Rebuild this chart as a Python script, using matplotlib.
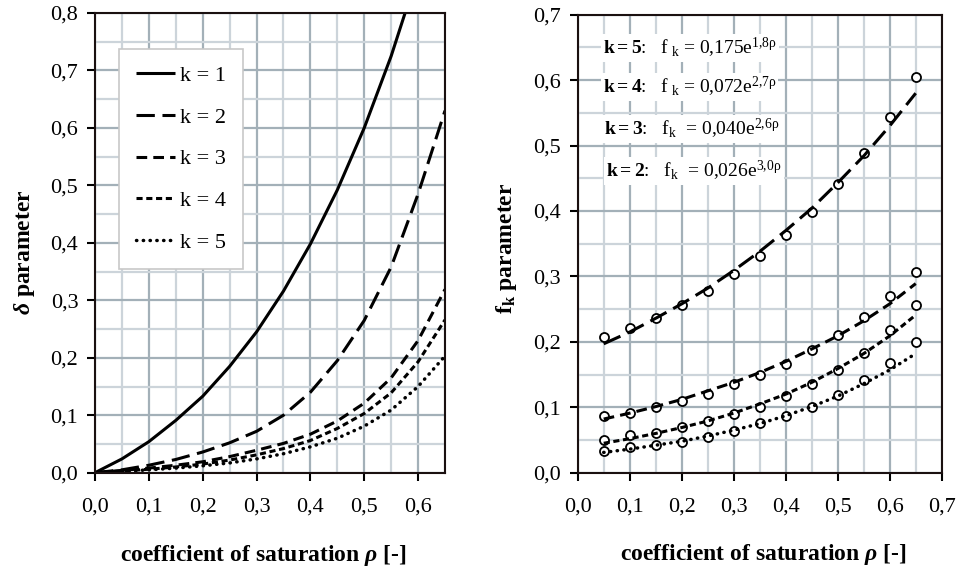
import numpy as np
import matplotlib
matplotlib.use('Agg')
import matplotlib.pyplot as plt
from matplotlib.ticker import MultipleLocator, FuncFormatter

plt.rcParams['font.family'] = ['Liberation Serif', 'DejaVu Serif']
plt.rcParams['mathtext.fontset'] = 'custom'
plt.rcParams['mathtext.rm'] = 'Liberation Serif'
plt.rcParams['mathtext.it'] = 'Liberation Serif:italic:bold'
plt.rcParams['mathtext.bf'] = 'Liberation Serif:bold'

# left chart: delta parameter
rho = [0.0, 0.05, 0.10, 0.15, 0.20, 0.25, 0.30, 0.35, 0.40, 0.45, 0.50, 0.55, 0.60, 0.65]
delta_k1 = [0, 0.024, 0.054, 0.091, 0.133, 0.185, 0.245, 0.316, 0.398, 0.492, 0.600, 0.725, 0.87, 1.04]
delta_k2 = [0, 0.005, 0.013, 0.023, 0.036, 0.052, 0.072, 0.100, 0.140, 0.195, 0.265, 0.358, 0.485, 0.630]
delta_k3 = [0, 0.004, 0.008, 0.013, 0.019, 0.028, 0.039, 0.051, 0.067, 0.090, 0.121, 0.165, 0.230, 0.319]
delta_k4 = [0, 0.003, 0.006, 0.010, 0.015, 0.022, 0.031, 0.042, 0.056, 0.077, 0.103, 0.139, 0.193, 0.266]
delta_k5 = [0, 0.002, 0.005, 0.008, 0.012, 0.017, 0.024, 0.033, 0.045, 0.060, 0.081, 0.109, 0.150, 0.203]
k_labels = ['k = 1', 'k = 2', 'k = 3', 'k = 4', 'k = 5']

# right chart: f_k parameter, measured points and fitted curves
rho_pts = [0.05, 0.10, 0.15, 0.20, 0.25, 0.30, 0.35, 0.40, 0.45, 0.50, 0.55, 0.60, 0.65]
f_k5 = [0.207, 0.221, 0.236, 0.256, 0.278, 0.303, 0.331, 0.363, 0.399, 0.442, 0.489, 0.543, 0.605]
f_k4 = [0.086, 0.092, 0.100, 0.110, 0.121, 0.135, 0.149, 0.166, 0.187, 0.210, 0.238, 0.270, 0.307]
f_k3 = [0.050, 0.057, 0.060, 0.070, 0.079, 0.089, 0.101, 0.117, 0.136, 0.157, 0.183, 0.218, 0.256]
f_k2 = [0.033, 0.040, 0.043, 0.047, 0.055, 0.064, 0.0755, 0.086, 0.100, 0.119, 0.142, 0.168, 0.200]
fit_k5 = [0.197, 0.215, 0.236, 0.258, 0.282, 0.309, 0.338, 0.370, 0.404, 0.443, 0.484, 0.530, 0.580]
fit_k4 = [0.082, 0.091, 0.101, 0.112, 0.125, 0.138, 0.153, 0.170, 0.189, 0.209, 0.232, 0.258, 0.289]
fit_k3 = [0.045, 0.052, 0.060, 0.069, 0.079, 0.091, 0.105, 0.120, 0.138, 0.159, 0.182, 0.209, 0.241]
fit_k2 = [0.031, 0.036, 0.042, 0.048, 0.056, 0.065, 0.075, 0.087, 0.101, 0.117, 0.136, 0.157, 0.182]
eq_labels = [(r'$\mathbf{k = 5}$:', r'f$_{\mathrm{\ k}}$ = 0,175e$^{\mathrm{1{,}8ρ}}$'),
             (r'$\mathbf{k = 4}$:', r'f$_{\mathrm{\ k}}$ = 0,072e$^{\mathrm{2{,}7ρ}}$'),
             (r'$\mathbf{k = 3}$:', r'f$_{\mathrm{k}}$  = 0,040e$^{\mathrm{2{,}6ρ}}$'),
             (r'$\mathbf{k = 2}$:', r'f$_{\mathrm{k}}$  = 0,026e$^{\mathrm{3{,}0ρ}}$')]
eq_x = [0.048, 0.048, 0.05, 0.055]
eq_y = [0.649, 0.590, 0.525, 0.461]

styles = ['-', (0, (6, 2.5)), (0, (3.5, 2)), (0, (2, 1.2)), (0, (0.1, 1.85))]

fig = plt.figure(figsize=(9.57, 5.75), dpi=100)
ax1 = fig.add_axes([95 / 957, 1 - 472.7 / 575, 350 / 957, 459.7 / 575])
ax2 = fig.add_axes([577.7 / 957, 1 - 472.7 / 575, 364 / 957, 458 / 575])

comma = FuncFormatter(lambda v, p: f'{v:.1f}'.replace('.', ','))


def style_axes(ax, xmax, ymax):
    ax.set_xlim(0, xmax)
    ax.set_ylim(0, ymax)
    ax.xaxis.set_major_locator(MultipleLocator(0.1))
    ax.yaxis.set_major_locator(MultipleLocator(0.1))
    ax.xaxis.set_minor_locator(MultipleLocator(0.05))
    ax.yaxis.set_minor_locator(MultipleLocator(0.05))
    ax.xaxis.set_major_formatter(comma)
    ax.yaxis.set_major_formatter(comma)
    ax.grid(which='major', color='#a3b0b8', lw=1.6)
    ax.grid(which='minor', color='#ccd4da', lw=1.6)
    ax.set_axisbelow(True)
    ax.tick_params(which='major', direction='out', length=6, width=1.5, labelsize=16)
    ax.tick_params(axis='x', which='major', pad=12)
    ax.tick_params(axis='y', which='major', pad=6)
    ax.tick_params(which='minor', length=0)
    for s in ax.spines.values():
        s.set_linewidth(1.5)
        s.set_color('#1a1010')


style_axes(ax1, 0.65, 0.8)
style_axes(ax2, 0.7, 0.7)

deltas = [delta_k1, delta_k2, delta_k3, delta_k4, delta_k5]
for d, ls, lab in zip(deltas, styles, k_labels):
    cap = 'round' if ls == styles[4] else 'butt'
    lw = 2.5 if ls == styles[4] else 2.2
    ax1.plot(rho, d, color='black', lw=lw, linestyle=ls, label=lab,
             dash_capstyle=cap, solid_capstyle='butt')

leg = ax1.legend(loc='upper left', bbox_to_anchor=(0.069, 0.922), fontsize=16,
                 handlelength=1.75, handletextpad=0.25, labelspacing=0.95,
                 borderpad=0.75, borderaxespad=0, fancybox=False, framealpha=1)
leg.get_frame().set_edgecolor('#c8c8c8')
leg.get_frame().set_linewidth(1.2)

ax1.set_xlabel(r'coefficient of saturation $\rho$ [-]', fontsize=17, fontweight='bold')
ax1.set_ylabel(r'$\delta$ parameter', fontsize=17, fontweight='bold')
ax1.xaxis.set_label_coords(0.48, -0.152)
ax1.yaxis.set_label_coords(-0.165, 0.48)

pts = [f_k5, f_k4, f_k3, f_k2]
fits = [fit_k5, fit_k4, fit_k3, fit_k2]
fit_styles = [styles[1], styles[2], styles[3], styles[4]]
for p, f, ls in zip(pts, fits, fit_styles):
    ax2.plot(rho_pts, p, 'o', ms=6.5, mfc='white', mec='black', mew=1.3, zorder=3)
    cap = 'round' if ls == styles[4] else 'butt'
    lw = 2.5 if ls == styles[4] else 2.2
    ax2.plot(rho_pts, f, color='black', lw=lw, linestyle=ls, dash_capstyle=cap, zorder=4)

for (kl, eq), x, y in zip(eq_labels, eq_x, eq_y):
    ax2.text(x, y, kl + '   ' + eq, fontsize=14, va='center', ha='left', zorder=5,
             bbox=dict(facecolor='white', edgecolor='none', pad=1.5))

ax2.set_xlabel(r'coefficient of saturation $\rho$ [-]', fontsize=17, fontweight='bold')
ax2.set_ylabel(r'f$_{\mathbf{k}}$ parameter', fontsize=17, fontweight='bold')
ax2.xaxis.set_label_coords(0.51, -0.152)
ax2.yaxis.set_label_coords(-0.16, 0.49)

fig.savefig('out.png', dpi=100)
